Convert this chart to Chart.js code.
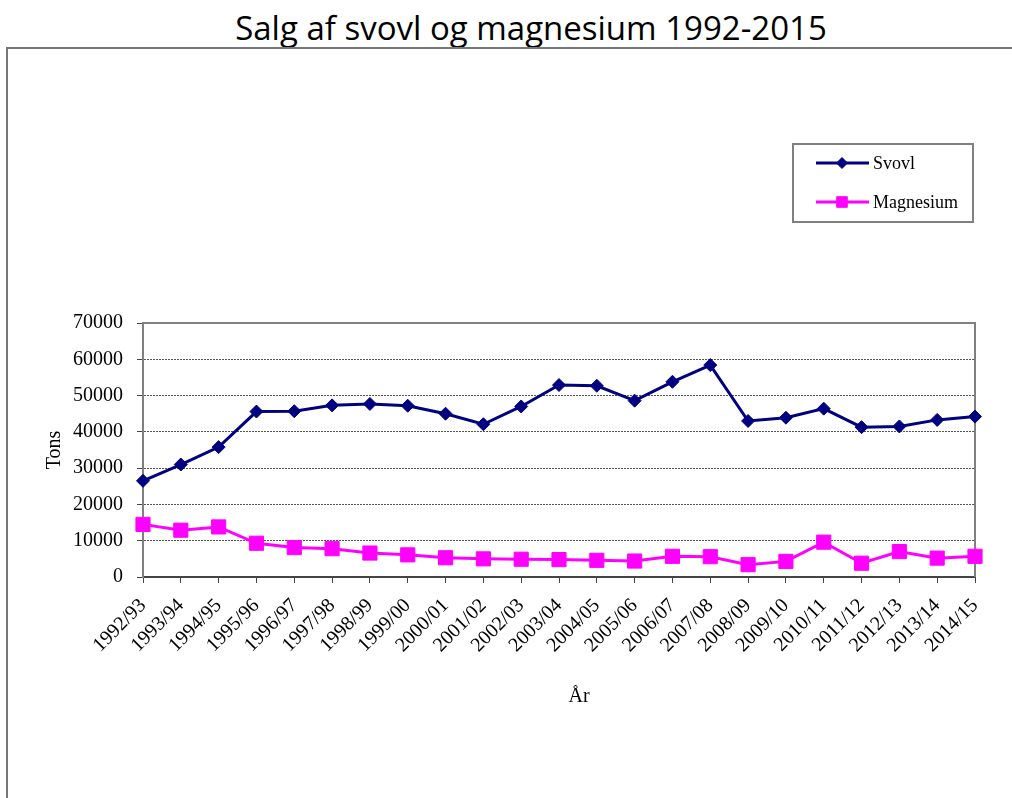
<!DOCTYPE html>
<html>
<head>
<meta charset="utf-8">
<script src="https://cdn.jsdelivr.net/npm/chart.js@4.4.1/dist/chart.umd.min.js"></script>
<style>
    html, body { margin: 0; padding: 0; background: #fff; }
    body { width: 1012px; height: 798px; position: relative; overflow: hidden; }
    #title {
        position: absolute; left: 0; top: 5px; width: 1062px;
        text-align: center; font: 33px/45px "Open Sans", sans-serif; color: #000;
    }
    #frame {
        position: absolute; left: 6px; top: 47px; width: 1100px; height: 900px;
        border-left: 2px solid #777; border-top: 2px solid #777;
    }
    #chart { position: absolute; left: 0; top: 0; }
</style>
</head>
<body>
<div id="title">Salg af svovl og magnesium 1992-2015</div>
<div id="frame"></div>
<canvas id="chart" width="1012" height="798"></canvas>
<script>
const SERIF = '"Liberation Serif", "Times New Roman", serif';

const years = [
    "1992/93", "1993/94", "1994/95", "1995/96", "1996/97", "1997/98",
    "1998/99", "1999/00", "2000/01", "2001/02", "2002/03", "2003/04",
    "2004/05", "2005/06", "2006/07", "2007/08", "2008/09", "2009/10",
    "2010/11", "2011/12", "2012/13", "2013/14", "2014/15",
];
// tons sold per season
const svovl = [
    26500, 31000, 35800, 45600, 45700, 47300, 47700, 47200, 45000, 42100,
    47000, 52900, 52700, 48600, 53800, 58400, 43000, 43900, 46400, 41300,
    41500, 43300, 44200,
];
const magnesium = [
    14500, 12900, 13800, 9300, 8100, 7800, 6600, 6100, 5300, 5000,
    4900, 4800, 4600, 4400, 5700, 5600, 3400, 4300, 9600, 3800,
    7000, 5200, 5700,
];

// top and right edges of the plot box (left/bottom are the axes)
const plotFrame = {
    id: "plotFrame",
    beforeDatasetsDraw(chart) {
        const { ctx, chartArea: a } = chart;
        ctx.save();
        ctx.strokeStyle = "#808080";
        ctx.lineWidth = 2;
        ctx.beginPath();
        ctx.moveTo(a.left, a.top);
        ctx.lineTo(a.right, a.top);
        ctx.lineTo(a.right, a.bottom);
        ctx.stroke();
        ctx.restore();
    },
};

// boxed legend floating above the plot, like the old Excel one
const boxLegend = {
    id: "boxLegend",
    afterDraw(chart) {
        const { ctx } = chart;
        const box = { x: 793, y: 144, w: 180, h: 78 };
        ctx.save();
        ctx.strokeStyle = "#808080";
        ctx.lineWidth = 2;
        ctx.strokeRect(box.x, box.y, box.w, box.h);

        const rows = [163, 202];
        const markerSize = [5.5, 7.5];
        chart.data.datasets.forEach((ds, i) => {
            const y = rows[i];
            ctx.strokeStyle = ds.borderColor;
            ctx.lineWidth = 3;
            ctx.beginPath();
            ctx.moveTo(816, y);
            ctx.lineTo(869, y);
            ctx.stroke();
            ctx.fillStyle = ds.pointBackgroundColor;
            ctx.strokeStyle = ds.pointBorderColor;
            ctx.lineWidth = 1;
            Chart.helpers.drawPoint(ctx, {
                pointStyle: ds.pointStyle,
                radius: markerSize[i],
                rotation: 0,
                borderWidth: 1,
            }, 842, y);
            ctx.fillStyle = "#000";
            ctx.font = "18px " + SERIF;
            ctx.textBaseline = "middle";
            ctx.textAlign = "left";
            ctx.fillText(ds.label, 873, y + 1);
        });
        ctx.restore();
    },
};

new Chart(document.getElementById("chart"), {
    type: "line",
    data: {
        labels: years,
        datasets: [
            {
                label: "Svovl",
                data: svovl,
                borderColor: "#000080",
                backgroundColor: "#000080",
                borderWidth: 3,
                tension: 0,
                pointStyle: "rectRot",
                pointRadius: 6.5,
                pointBackgroundColor: "#000080",
                pointBorderColor: "#000080",
                pointBorderWidth: 1,
                clip: false,
            },
            {
                label: "Magnesium",
                data: magnesium,
                borderColor: "#ff00ff",
                backgroundColor: "#ff00ff",
                borderWidth: 3,
                tension: 0,
                pointStyle: "rect",
                pointRadius: 10,
                pointBackgroundColor: "#ff00ff",
                pointBorderColor: "#ff00ff",
                pointBorderWidth: 1,
                clip: false,
            },
        ],
    },
    options: {
        responsive: false,
        animation: false,
        layout: { padding: { left: 40, top: 323, right: 37, bottom: 0 } },
        plugins: {
            legend: { display: false },
            title: { display: false },
            tooltip: { enabled: false },
        },
        scales: {
            x: {
                offset: false,
                grid: {
                    drawOnChartArea: false,
                    drawTicks: true,
                    tickLength: 6,
                    color: "#444",
                    tickBorderDash: [],
                },
                border: { color: "#444", width: 2 },
                ticks: {
                    autoSkip: false,
                    minRotation: 45,
                    maxRotation: 45,
                    padding: 11,
                    color: "#000",
                    font: { family: SERIF, size: 20 },
                },
                title: {
                    display: true,
                    // the original label sits a bit right of the axis centre
                    text: "\u2003\u2003År",
                    color: "#000",
                    font: { family: SERIF, size: 20 },
                    padding: { top: 0, bottom: 89 },
                },
                afterFit(scale) {
                    scale.height = 221;
                },
            },
            y: {
                min: 0,
                max: 70000,
                ticks: {
                    stepSize: 10000,
                    padding: 14,
                    color: "#000",
                    font: { family: SERIF, size: 20 },
                    callback: (v) => String(v),
                },
                grid: {
                    color: "#555",
                    lineWidth: 1,
                    drawTicks: true,
                    tickLength: 6,
                    tickColor: "#444",
                    tickBorderDash: [],
                },
                border: { color: "#808080", width: 2, dash: [2, 1] },
                title: {
                    display: true,
                    text: "Tons",
                    color: "#000",
                    font: { family: SERIF, size: 20 },
                    padding: { top: 3, bottom: 0 },
                },
                afterFit(scale) {
                    scale.width = 103;
                },
            },
        },
    },
    plugins: [plotFrame, boxLegend],
});
</script>
</body>
</html>
